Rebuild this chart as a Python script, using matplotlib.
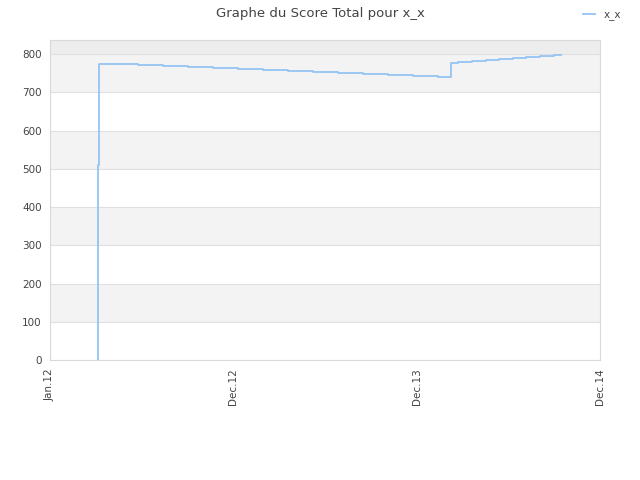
import matplotlib
matplotlib.use("Agg")
from matplotlib import pyplot as plt

# data (x in days since Jan.12)
days = [95, 95.5, 96.5, 98.5, 125, 175, 225, 275, 324, 374, 424, 474, 524,
        573, 623, 673, 723, 772, 798, 812, 840, 868, 894, 922, 948, 976,
        1003, 1017]
scores = [0, 141, 510, 775, 773, 771, 768, 766, 763, 761, 758, 755, 753,
          750, 748, 745, 742, 739, 777, 779, 782, 784, 787, 790, 793, 795,
          798, 798]
tick_days = [0, 365, 730, 1095]
tick_labels = ["Jan.12", "Dec.12", "Dec.13", "Dec.14"]
yticks = list(range(0, 801, 100))

fig = plt.figure(figsize=(6.4, 4.8), dpi=100)
ax = fig.add_axes([50/640, 120/480, 550/640, 320/480])

ymax = 837
# alternating bands
for i, lo in enumerate(yticks):
    hi = lo + 100 if lo < 800 else ymax
    if lo == 800:
        col = "#ededed"
    elif i % 2 == 1:
        col = "#f3f3f3"
    else:
        col = "#ffffff"
    ax.axhspan(lo, hi, color=col, zorder=0, lw=0)
for t in yticks:
    ax.axhline(t, color="#e0e0e0", lw=0.8, zorder=1)

ax.plot(days, scores, drawstyle="steps-post", color="#94c4f4", lw=1.3,
        label="x_x", zorder=3)

ax.set_xlim(0, 1095)
ax.set_ylim(0, ymax)
ax.set_yticks(yticks)
ax.set_xticks(tick_days)
ax.set_xticklabels(tick_labels, rotation=90)
ax.tick_params(length=0, labelsize=7.5, colors="#444444", pad=6)
for s in ax.spines.values():
    s.set_color("#d9d9d9")

fig.suptitle("Graphe du Score Total pour x_x", y=0.985, fontsize=9.5,
             color="#444444")
fig.legend(loc="upper right", bbox_to_anchor=(0.985, 1.0), frameon=False,
           fontsize=7.5, handlelength=1.2, labelcolor="#444444")

fig.savefig("out.png", dpi=100)
